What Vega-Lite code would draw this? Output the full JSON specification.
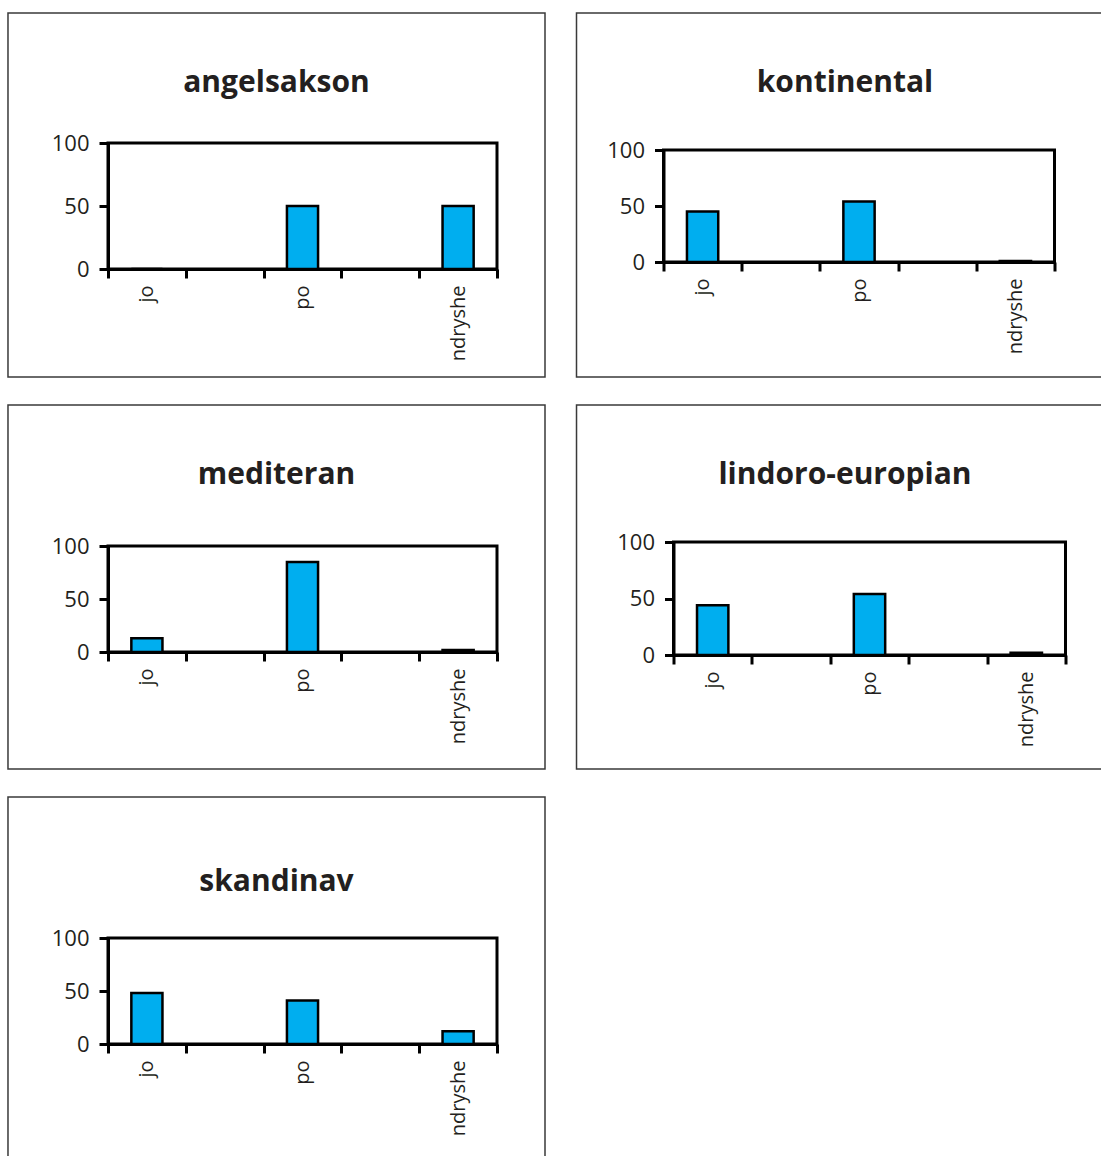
{
  "$schema": "https://vega.github.io/schema/vega-lite/v6.json",
  "background": "white",
  "padding": {"left": 5, "top": -2, "right": 0, "bottom": 0},
  "autosize": {"type": "pad"},
  "data": {"values": [
    {"rajoni": "angelsakson", "kategoria": "jo", "vlera": 0},
    {"rajoni": "angelsakson", "kategoria": "po", "vlera": 50},
    {"rajoni": "angelsakson", "kategoria": "ndryshe", "vlera": 50},
    {"rajoni": "kontinental", "kategoria": "jo", "vlera": 45},
    {"rajoni": "kontinental", "kategoria": "po", "vlera": 54},
    {"rajoni": "kontinental", "kategoria": "ndryshe", "vlera": 1},
    {"rajoni": "mediteran", "kategoria": "jo", "vlera": 13},
    {"rajoni": "mediteran", "kategoria": "po", "vlera": 85},
    {"rajoni": "mediteran", "kategoria": "ndryshe", "vlera": 2},
    {"rajoni": "lindoro-europian", "kategoria": "jo", "vlera": 44},
    {"rajoni": "lindoro-europian", "kategoria": "po", "vlera": 54},
    {"rajoni": "lindoro-europian", "kategoria": "ndryshe", "vlera": 2},
    {"rajoni": "skandinav", "kategoria": "jo", "vlera": 48},
    {"rajoni": "skandinav", "kategoria": "po", "vlera": 41},
    {"rajoni": "skandinav", "kategoria": "ndryshe", "vlera": 12}
  ]},
  "spacing": 10,
  "vconcat": [
    {"columns": 2, "align": "none", "bounds": "full", "spacing": 25.5,
     "concat": [
      {"spacing": 0, "vconcat": [
        {"width": 1, "height": 1, "view": {"stroke": null}, "data": {"values": [{"bosh": ""}]}, "mark": {"type": "text"}, "encoding": {"text": {"field": "bosh"}}},
        {
          "title": {"text": "angelsakson", "offset": -86},
          "width": 389, "height": 126,
          "resolve": {"scale": {"x": "independent", "y": "independent"}},
          "layer": [
            {"data": {"values": [{"kuti": 1}]},
             "mark": {"type": "rect", "fill": "transparent", "stroke": "#3a3a3a", "strokeWidth": 1.5},
             "encoding": {
               "x": {"datum": -0.2571, "type": "quantitative", "scale": {"domain": [0, 1]}, "axis": null},
               "x2": {"datum": 1.1234},
               "y": {"datum": 2.0317, "type": "quantitative", "scale": {"domain": [0, 1]}, "axis": null},
               "y2": {"datum": -0.8571}}},
            {"transform": [{"filter": "datum.rajoni == 'angelsakson'"}],
             "mark": {"type": "bar", "fill": "#00AEEF", "stroke": "black", "strokeWidth": 2.5, "width": {"band": 0.4}},
             "encoding": {
               "x": {"field": "kategoria", "type": "nominal", "scale": {"domain": ["jo", " ", "po", "  ", "ndryshe"], "paddingInner": 0, "paddingOuter": 0}},
               "y": {"field": "vlera", "type": "quantitative", "scale": {"domain": [0, 100], "nice": false}, "axis": {"values": [0, 50, 100]}}}}
          ]
        }
      ]},
      {"spacing": 0, "vconcat": [
        {"width": 1, "height": 1, "view": {"stroke": null}, "data": {"values": [{"bosh": ""}]}, "mark": {"type": "text"}, "encoding": {"text": {"field": "bosh"}}},
        {
          "title": {"text": "kontinental", "offset": -86},
          "width": 391, "height": 112,
          "resolve": {"scale": {"x": "independent", "y": "independent"}},
          "layer": [
            {"data": {"values": [{"kuti": 1}]},
             "mark": {"type": "rect", "fill": "transparent", "stroke": "#3a3a3a", "strokeWidth": 1.5},
             "encoding": {
               "x": {"datum": -0.2225, "type": "quantitative", "scale": {"domain": [0, 1]}, "axis": null},
               "x2": {"datum": 1.1509},
               "y": {"datum": 2.2232, "type": "quantitative", "scale": {"domain": [0, 1]}, "axis": null},
               "y2": {"datum": -1.0268}}},
            {"transform": [{"filter": "datum.rajoni == 'kontinental'"}],
             "mark": {"type": "bar", "fill": "#00AEEF", "stroke": "black", "strokeWidth": 2.5, "width": {"band": 0.4}},
             "encoding": {
               "x": {"field": "kategoria", "type": "nominal", "scale": {"domain": ["jo", " ", "po", "  ", "ndryshe"], "paddingInner": 0, "paddingOuter": 0}},
               "y": {"field": "vlera", "type": "quantitative", "scale": {"domain": [0, 100], "nice": false}, "axis": {"values": [0, 50, 100]}}}}
          ]
        }
      ]}
     ]},
    {"columns": 2, "align": "none", "bounds": "full", "spacing": 25.5,
     "concat": [
      {"spacing": 0, "vconcat": [
        {"width": 1, "height": 1, "view": {"stroke": null}, "data": {"values": [{"bosh": ""}]}, "mark": {"type": "text"}, "encoding": {"text": {"field": "bosh"}}},
        {
          "title": {"text": "mediteran", "offset": -86},
          "width": 389, "height": 106,
          "resolve": {"scale": {"x": "independent", "y": "independent"}},
          "layer": [
            {"data": {"values": [{"kuti": 1}]},
             "mark": {"type": "rect", "fill": "transparent", "stroke": "#3a3a3a", "strokeWidth": 1.5},
             "encoding": {
               "x": {"datum": -0.2571, "type": "quantitative", "scale": {"domain": [0, 1]}, "axis": null},
               "x2": {"datum": 1.1234},
               "y": {"datum": 2.3302, "type": "quantitative", "scale": {"domain": [0, 1]}, "axis": null},
               "y2": {"datum": -1.1038}}},
            {"transform": [{"filter": "datum.rajoni == 'mediteran'"}],
             "mark": {"type": "bar", "fill": "#00AEEF", "stroke": "black", "strokeWidth": 2.5, "width": {"band": 0.4}},
             "encoding": {
               "x": {"field": "kategoria", "type": "nominal", "scale": {"domain": ["jo", " ", "po", "  ", "ndryshe"], "paddingInner": 0, "paddingOuter": 0}},
               "y": {"field": "vlera", "type": "quantitative", "scale": {"domain": [0, 100], "nice": false}, "axis": {"values": [0, 50, 100]}}}}
          ]
        }
      ]},
      {"spacing": 0, "vconcat": [
        {"width": 1, "height": 1, "view": {"stroke": null}, "data": {"values": [{"bosh": ""}]}, "mark": {"type": "text"}, "encoding": {"text": {"field": "bosh"}}},
        {
          "title": {"text": "lindoro-europian", "offset": -86},
          "width": 392, "height": 113,
          "resolve": {"scale": {"x": "independent", "y": "independent"}},
          "layer": [
            {"data": {"values": [{"kuti": 1}]},
             "mark": {"type": "rect", "fill": "transparent", "stroke": "#3a3a3a", "strokeWidth": 1.5},
             "encoding": {
               "x": {"datum": -0.2474, "type": "quantitative", "scale": {"domain": [0, 1]}, "axis": null},
               "x2": {"datum": 1.1224},
               "y": {"datum": 2.2124, "type": "quantitative", "scale": {"domain": [0, 1]}, "axis": null},
               "y2": {"datum": -1.0088}}},
            {"transform": [{"filter": "datum.rajoni == 'lindoro-europian'"}],
             "mark": {"type": "bar", "fill": "#00AEEF", "stroke": "black", "strokeWidth": 2.5, "width": {"band": 0.4}},
             "encoding": {
               "x": {"field": "kategoria", "type": "nominal", "scale": {"domain": ["jo", " ", "po", "  ", "ndryshe"], "paddingInner": 0, "paddingOuter": 0}},
               "y": {"field": "vlera", "type": "quantitative", "scale": {"domain": [0, 100], "nice": false}, "axis": {"values": [0, 50, 100]}}}}
          ]
        }
      ]}
     ]},
    {"spacing": 0, "vconcat": [
      {"width": 1, "height": 1, "view": {"stroke": null}, "data": {"values": [{"bosh": ""}]}, "mark": {"type": "text"}, "encoding": {"text": {"field": "bosh"}}},
      {
        "title": {"text": "skandinav", "offset": -101},
        "width": 389, "height": 106,
        "resolve": {"scale": {"x": "independent", "y": "independent"}},
        "layer": [
          {"data": {"values": [{"kuti": 1}]},
           "mark": {"type": "rect", "fill": "transparent", "stroke": "#3a3a3a", "strokeWidth": 1.5},
           "encoding": {
             "x": {"datum": -0.2571, "type": "quantitative", "scale": {"domain": [0, 1]}, "axis": null},
             "x2": {"datum": 1.1234},
             "y": {"datum": 2.3302, "type": "quantitative", "scale": {"domain": [0, 1]}, "axis": null},
             "y2": {"datum": -1.1038}}},
          {"transform": [{"filter": "datum.rajoni == 'skandinav'"}],
           "mark": {"type": "bar", "fill": "#00AEEF", "stroke": "black", "strokeWidth": 2.5, "width": {"band": 0.4}},
           "encoding": {
             "x": {"field": "kategoria", "type": "nominal", "scale": {"domain": ["jo", " ", "po", "  ", "ndryshe"], "paddingInner": 0, "paddingOuter": 0}},
             "y": {"field": "vlera", "type": "quantitative", "scale": {"domain": [0, 100], "nice": false}, "axis": {"values": [0, 50, 100]}}}}
        ]
      }
    ]}
  ],
  "config": {
    "view": {"stroke": "black", "strokeWidth": 3},
    "title": {"font": "Open Sans", "fontSize": 30, "fontWeight": "bold", "color": "#231f20", "anchor": "middle", "frame": "bounds", "baseline": "alphabetic"},
    "axis": {"title": null, "domainColor": "black", "domainWidth": 3, "tickColor": "black", "tickWidth": 3, "tickSize": 9, "labelFont": "Open Sans", "labelColor": "#231f20", "grid": false},
    "axisX": {"labelAngle": -90, "labelFontSize": 20, "labelPadding": 7, "tickBand": "extent"},
    "axisY": {"labelFontSize": 22, "labelPadding": 10, "grid": true, "gridColor": "black", "gridWidth": 2.5}
  }
}
